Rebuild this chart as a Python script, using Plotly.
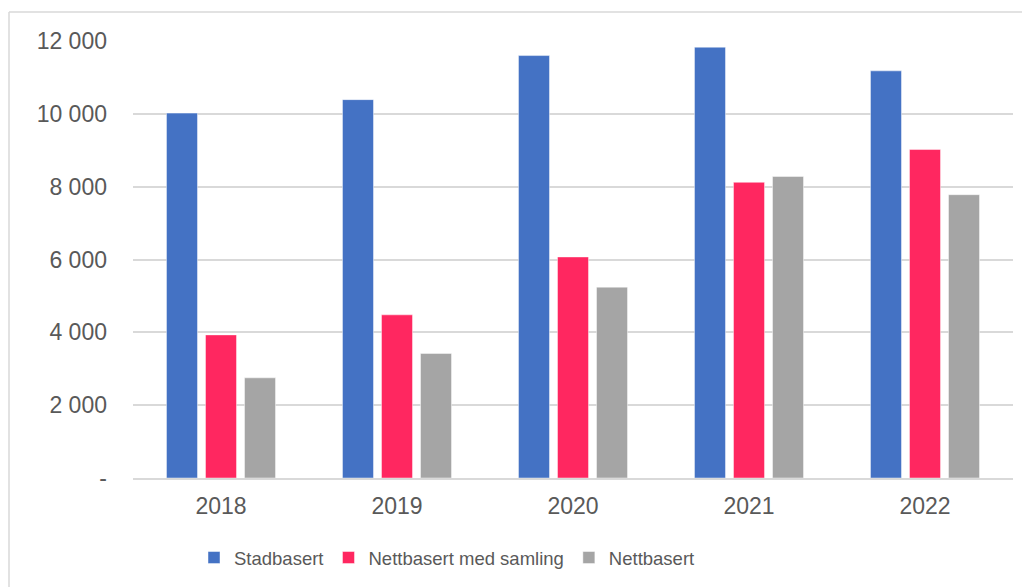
import plotly.graph_objects as go

years = ["2018", "2019", "2020", "2021", "2022"]
stadbasert = [10020, 10390, 11600, 11830, 11180]
nett_samling = [3930, 4480, 6070, 8120, 9020]
nettbasert = [2750, 3420, 5240, 8280, 7780]

series_names = ["Stadbasert", "Nettbasert med samling", "Nettbasert"]
series_colors = ["#4472C4", "#FF2760", "#A5A5A5"]

ytick_vals = [0, 2000, 4000, 6000, 8000, 10000, 12000]
ytick_text = ["-", "2 000", "4 000", "6 000", "8 000", "10 000", "12 000"]

# page body has an 8px margin, so the figure is drawn at (8, 8)
OFF = 8
W, H = 1030, 587
ML, MR, MT, MB = 133 - OFF, 17 + OFF, 41 - OFF, 109 + OFF
PW, PH = W - ML - MR, H - MT - MB

fig = go.Figure()
for name, vals, col in zip(series_names, [stadbasert, nett_samling, nettbasert], series_colors):
    fig.add_trace(go.Bar(
        x=years, y=vals, name=name,
        marker=dict(color=col, line=dict(color="rgba(255,255,255,0.45)", width=1)),
    ))

font_family = "Liberation Sans, Arial, sans-serif"
txt_col = "#595959"

def px_x(p):
    return (p - OFF - ML) / PW

def px_y(p):
    return (H - MB - (p - OFF)) / PH

fig.update_layout(
    width=W, height=H,
    margin=dict(l=ML, r=MR, t=MT, b=MB, pad=0),
    paper_bgcolor="white", plot_bgcolor="white",
    barmode="group", bargap=0.335, bargroupgap=0.205,
    font=dict(family=font_family, color=txt_col, size=23),
    xaxis=dict(
        showgrid=False, showline=True, linecolor="#d9d9d9", linewidth=1.5,
        ticks="", tickfont=dict(size=23, color=txt_col), ticklabelstandoff=7,
    ),
    yaxis=dict(
        range=[0, 12000], tickvals=ytick_vals, ticktext=ytick_text,
        showgrid=True, gridcolor="#d9d9d9", gridwidth=1.5,
        zeroline=False, showline=False, ticks="",
        tickfont=dict(size=23, color=txt_col), ticklabelstandoff=25,
    ),
    legend=dict(
        orientation="h", x=px_x(194), xanchor="left", y=px_y(558), yanchor="middle",
        font=dict(size=18.5, color=txt_col), bgcolor="rgba(0,0,0,0)", traceorder="normal",
        itemclick=False,
    ),
    shapes=[
        dict(type="line", xref="paper", yref="paper", x0=px_x(9), x1=px_x(9),
             y0=px_y(12), y1=px_y(H + 20), line=dict(color="#d9d9d9", width=1.5)),
        dict(type="line", xref="paper", yref="paper", x0=px_x(9), x1=px_x(W + 20),
             y0=px_y(12), y1=px_y(12), line=dict(color="#d9d9d9", width=1.5)),
    ],
)

fig.write_html("out.html")
